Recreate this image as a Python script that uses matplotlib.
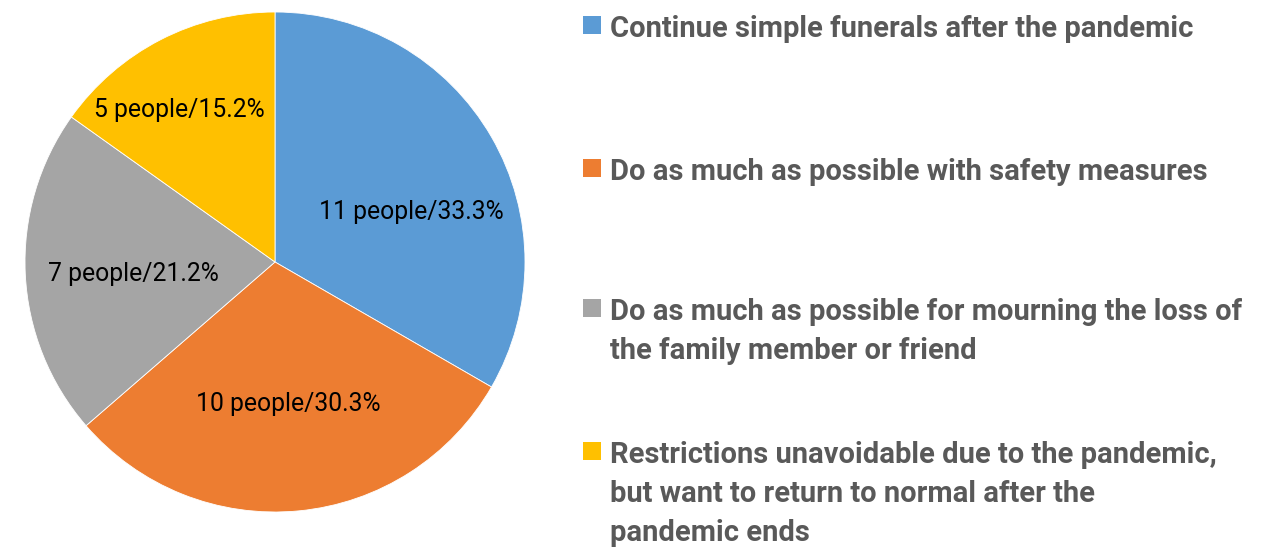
import numpy as np
import matplotlib.pyplot as plt
from matplotlib.patches import Rectangle

categories = ['Continue simple funerals after the pandemic',
              'Do as much as possible with safety measures',
              'Do as much as possible for mourning the loss of\nthe family member or friend',
              'Restrictions unavoidable due to the pandemic,\nbut want to return to normal after the\npandemic ends']
people = [11, 10, 7, 5]
colors = ['#5B9BD5', '#ED7D31', '#A5A5A5', '#FFC000']

total = sum(people)

fig = plt.figure(figsize=(12.68, 5.5), dpi=100)
ax = fig.add_axes([25/1268, 38/550, 500/1268, 500/550])
wedges, _ = ax.pie(people, colors=colors, startangle=90, counterclock=False,
                   radius=1, wedgeprops=dict(edgecolor='white', linewidth=0.6))
ax.set_xlim(-1, 1)
ax.set_ylim(-1, 1)
ax.set_aspect('equal')
ax.axis('off')

# label placement: radial distance and angle nudge per slice (Excel-like fit)
dists = [0.58, 0.57, 0.57, 0.72]
nudges = [-10, 0, 2, 5]
for w, n, d, dn in zip(wedges, people, dists, nudges):
    ang = np.deg2rad((w.theta1 + w.theta2) / 2 + dn)
    ax.text(d*np.cos(ang), d*np.sin(ang), '%d people/%.1f%%' % (n, 100*n/total),
            ha='center', va='center', fontsize=17.8, family=['Roboto', 'DejaVu Sans'],
            color='black')

# legend: first-line baselines (px from top), line pitch 39 px
baselines = [37, 180, 320, 463]
pitch = 39
for lab, c, y in zip(categories, colors, baselines):
    nl = lab.count('\n')
    fig.patches.append(Rectangle((583/1268, 1 - (y-3)/550), 18/1268, 18/550,
                                 transform=fig.transFigure, facecolor=c, edgecolor='none'))
    fig.text(610/1268, 1 - (y + nl*pitch)/550, lab, ha='left', va='baseline', fontsize=21,
             fontweight='bold', color='#595959', linespacing=1.5,
             family=['Roboto', 'DejaVu Sans'])

plt.savefig('out.png', dpi=100)
